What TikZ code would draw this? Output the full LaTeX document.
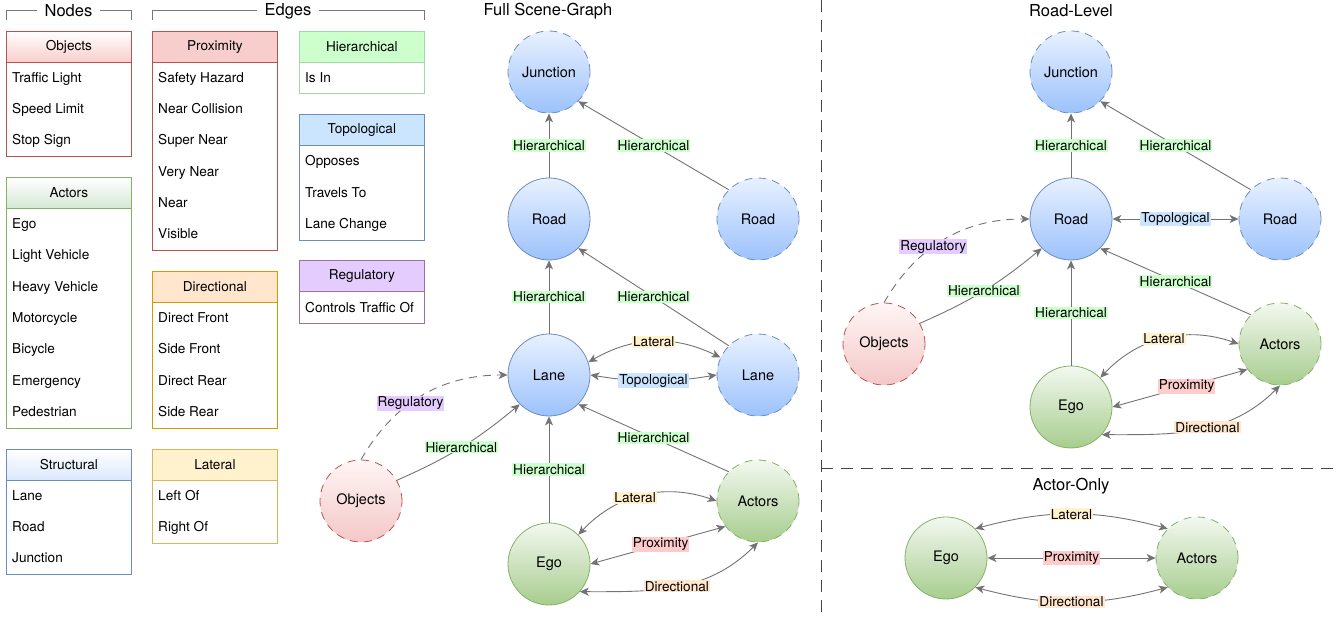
\documentclass[tikz,border=0pt]{standalone}
\usepackage{fontspec}
\setmainfont{TeX Gyre Heros}
\usetikzlibrary{arrows.meta}
\definecolor{edgegray}{HTML}{737373}
\definecolor{bluebd}{HTML}{6C8EBF}
\definecolor{bluetop}{HTML}{E8F1FF}
\definecolor{bluebot}{HTML}{9CC2FC}
\definecolor{greenbd}{HTML}{82B366}
\definecolor{greentop}{HTML}{F3F8F0}
\definecolor{greenbot}{HTML}{A7CD8E}
\definecolor{redbd}{HTML}{B85450}
\definecolor{redtop}{HTML}{FFF5F5}
\definecolor{redbot}{HTML}{F4C7C7}
\definecolor{hierfill}{HTML}{CCFFCC}
\definecolor{hierbd}{HTML}{A3D9A3}
\definecolor{topofill}{HTML}{CCE5FF}
\definecolor{latfill}{HTML}{FFF2CC}
\definecolor{latbd}{HTML}{D6B656}
\definecolor{proxfill}{HTML}{FFCCCC}
\definecolor{proxhead}{HTML}{F8CECC}
\definecolor{dirfill}{HTML}{FFE6CC}
\definecolor{dirbd}{HTML}{D79B00}
\definecolor{regfill}{HTML}{E5CCFF}
\definecolor{regbd}{HTML}{9673A6}
\definecolor{objhead}{HTML}{F8CECC}
\definecolor{acthead}{HTML}{D5E8D4}
\definecolor{strhead}{HTML}{DAE8FC}
\definecolor{divider}{HTML}{444444}
\definecolor{bracket}{HTML}{777777}
\tikzset{
  txt/.style={font=\fontsize{13.6}{16}\selectfont},
  ctxt/.style={font=\fontsize{14.5}{17}\selectfont},
  ttl/.style={font=\fontsize{16.5}{19}\selectfont},
  circ/.style={circle, minimum size=82pt, inner sep=0pt, line width=0.8pt, ctxt},
  bluec/.style={circ, draw=bluebd, top color=bluetop, bottom color=bluebot},
  greenc/.style={circ, draw=greenbd, top color=greentop, bottom color=greenbot},
  redc/.style={circ, draw=redbd, top color=redtop, bottom color=redbot},
  dashc/.style={dash pattern=on 8pt off 6pt},
  tip/.tip={Stealth[length=9pt,width=8pt,inset=2.5pt]},
  edge/.style={draw=edgegray, line width=0.9pt},
  arr/.style={edge, -tip},
  darr/.style={edge, tip-tip},
  lbl/.style={txt, inner sep=1pt, text=black},
  hierl/.style={lbl, fill=hierfill},
  topol/.style={lbl, fill=topofill},
  latl/.style={lbl, fill=latfill},
  proxl/.style={lbl, fill=proxfill},
  dirl/.style={lbl, fill=dirfill},
  regl/.style={lbl, fill=regfill},
  hdr/.style={txt, anchor=north west, minimum width=125pt, minimum height=31pt, inner sep=0pt, line width=0.8pt},
  bodyb/.style={anchor=north west, minimum width=125pt, inner sep=0pt, line width=0.8pt, fill=white},
  rowt/.style={txt, anchor=west, inner sep=0pt, text height=10pt, text depth=0pt},
  divline/.style={draw=divider, line width=1pt, dash pattern=on 12pt off 8pt},
  brk/.style={draw=bracket, line width=0.8pt},
}
\begin{document}
\begin{tikzpicture}[x=1pt,y=1pt]
\useasboundingbox (0,0) rectangle (1338,620);

% ---------- legend brackets ----------
\coordinate (nb1) at (6,600); \coordinate (nb2) at (6,610);
\coordinate (nb3) at (131,610); \coordinate (nb4) at (131,600);
\draw[brk] (nb1) -- (nb2) -- (nb3) -- (nb4);
\node[ttl, fill=white, inner xsep=8pt, inner ysep=1pt] (nodesT) at (68.5,609) {Nodes};
\coordinate (eb1) at (152,600); \coordinate (eb2) at (152,610);
\coordinate (eb3) at (424,610); \coordinate (eb4) at (424,600);
\draw[brk] (eb1) -- (eb2) -- (eb3) -- (eb4);
\node[ttl, fill=white, inner xsep=8pt, inner ysep=1pt] (edgesT) at (288,609) {Edges};

% ---------- Objects ----------
\node[bodyb, draw=redbd, minimum height=94pt] (objB) at (6,558) {};
\node[hdr, draw=redbd, top color=white, bottom color=objhead] (objH) at (6,589) {Objects};
\node[rowt] (o1) at (12,542) {Traffic Light};
\node[rowt] (o2) at (12,511) {Speed Limit};
\node[rowt] (o3) at (12,480) {Stop Sign};

% ---------- Actors ----------
\node[bodyb, draw=greenbd, minimum height=220pt] (actB) at (6,412) {};
\node[hdr, draw=greenbd, top color=white, bottom color=acthead] (actH) at (6,443) {Actors};
\node[rowt] (a1) at (12,396) {Ego};
\node[rowt] (a2) at (12,365) {Light Vehicle};
\node[rowt] (a3) at (12,333) {Heavy Vehicle};
\node[rowt] (a4) at (12,302) {Motorcycle};
\node[rowt] (a5) at (12,271) {Bicycle};
\node[rowt] (a6) at (12,239) {Emergency};
\node[rowt] (a7) at (12,208) {Pedestrian};

% ---------- Structural ----------
\node[bodyb, draw=bluebd, minimum height=94pt] (strB) at (6,140) {};
\node[hdr, draw=bluebd, top color=white, bottom color=strhead] (strH) at (6,171) {Structural};
\node[rowt] (s1) at (12,124) {Lane};
\node[rowt] (s2) at (12,93) {Road};
\node[rowt] (s3) at (12,62) {Junction};

% ---------- Proximity ----------
\node[bodyb, draw=redbd, minimum height=188pt] (proxB) at (152,558) {};
\node[hdr, draw=redbd, fill=proxhead] (proxH) at (152,589) {Proximity};
\node[rowt] (p1) at (158,542) {Safety Hazard};
\node[rowt] (p2) at (158,511) {Near Collision};
\node[rowt] (p3) at (158,480) {Super Near};
\node[rowt] (p4) at (158,448) {Very Near};
\node[rowt] (p5) at (158,417) {Near};
\node[rowt] (p6) at (158,386) {Visible};

% ---------- Directional ----------
\node[bodyb, draw=dirbd, minimum height=126pt] (dirB) at (152,318) {};
\node[hdr, draw=dirbd, fill=dirfill] (dirH) at (152,349) {Directional};
\node[rowt] (d1) at (158,302) {Direct Front};
\node[rowt] (d2) at (158,271) {Side Front};
\node[rowt] (d3) at (158,239) {Direct Rear};
\node[rowt] (d4) at (158,208) {Side Rear};

% ---------- Lateral ----------
\node[bodyb, draw=latbd, minimum height=63pt] (latB) at (152,140) {};
\node[hdr, draw=latbd, fill=latfill] (latH) at (152,171) {Lateral};
\node[rowt] (l1) at (158,124) {Left Of};
\node[rowt] (l2) at (158,93) {Right Of};

% ---------- Hierarchical ----------
\node[bodyb, draw=hierbd, minimum height=31pt] (hierB) at (299,558) {};
\node[hdr, draw=hierbd, fill=hierfill] (hierH) at (299,589) {Hierarchical};
\node[rowt] (h1) at (305,542) {Is In};

% ---------- Topological ----------
\node[bodyb, draw=bluebd, minimum height=95pt] (topoB) at (299,475) {};
\node[hdr, draw=bluebd, fill=topofill] (topoH) at (299,506) {Topological};
\node[rowt] (t1) at (305,459) {Opposes};
\node[rowt] (t2) at (305,427) {Travels To};
\node[rowt] (t3) at (305,396) {Lane Change};

% ---------- Regulatory ----------
\node[bodyb, draw=regbd, minimum height=32pt] (regB) at (299,329) {};
\node[hdr, draw=regbd, fill=regfill] (regH) at (299,360) {Regulatory};
\node[rowt] (r1) at (305,312) {Controls Traffic Of};

% ---------- dividers ----------
\coordinate (vd1) at (821,620); \coordinate (vd2) at (821,0);
\draw[divline] (vd1) -- (vd2);
\coordinate (hd1) at (821,151); \coordinate (hd2) at (1338,151);
\draw[divline] (hd1) -- (hd2);

% ---------- titles ----------
\node[ttl] (fullT) at (548,609) {Full Scene-Graph};
\node[ttl] (roadT) at (1071,609) {Road-Level};
\node[ttl] (actorT) at (1071,134) {Actor-Only};

% ========== Full Scene-Graph ==========
\node[bluec, dashc] (JuncA) at (549,548) {Junction};
\node[bluec] (RoadA) at (549,401) {Road};
\node[bluec, dashc] (RoadB) at (758,401) {Road};
\node[bluec] (LaneA) at (549,245) {Lane};
\node[bluec, dashc] (LaneB) at (758,245) {Lane};
\node[redc, dashc] (ObjA) at (361,119) {Objects};
\node[greenc, dashc] (ActA) at (758,119) {Actors};
\node[greenc] (EgoA) at (549,56) {Ego};

\draw[arr] (RoadA) -- node[hierl] {Hierarchical} (JuncA);
\draw[arr] (RoadB.135) -- node[hierl] {Hierarchical} (JuncA.-45);
\draw[arr] (LaneA) -- node[hierl] {Hierarchical} (RoadA);
\draw[arr] (LaneB.135) -- node[hierl] {Hierarchical} (RoadA.-45);
\draw[darr] (LaneA.18) to[bend left=28] node[latl] {Lateral} (LaneB.155);
\draw[darr] (LaneA.east) to[bend right=9] node[topol] {Topological} (LaneB.west);
\draw[arr] (ObjA.30) to[bend right=8] node[hierl] {Hierarchical} (LaneA.-135);
\draw[arr, dash pattern=on 8pt off 6pt] (ObjA.north) to[bend left=30] node[regl, pos=0.42] {Regulatory} (LaneA.west);
\draw[arr] (EgoA) -- node[hierl] {Hierarchical} (LaneA);
\draw[arr] (ActA.135) -- node[hierl] {Hierarchical} (LaneA.-45);
\draw[darr] (EgoA.45) to[bend left=33] node[latl, pos=0.45] {Lateral} (ActA.west);
\draw[darr] (EgoA.east) -- node[proxl, pos=0.52] {Proximity} (ActA.218);
\draw[darr] (EgoA.-42) to[out=0, in=225] node[dirl, pos=0.5] {Directional} (ActA.south);

% ========== Road-Level ==========
\node[bluec, dashc] (JuncR) at (1071,548) {Junction};
\node[bluec] (RoadR) at (1071,401) {Road};
\node[bluec, dashc] (RoadR2) at (1280,401) {Road};
\node[redc, dashc] (ObjR) at (884,276) {Objects};
\node[greenc, dashc] (ActR) at (1280,276) {Actors};
\node[greenc] (EgoR) at (1071,213) {Ego};

\draw[arr] (RoadR) -- node[hierl] {Hierarchical} (JuncR);
\draw[arr] (RoadR2.135) -- node[hierl] {Hierarchical} (JuncR.-45);
\draw[darr] (RoadR) -- node[topol] {Topological} (RoadR2);
\draw[arr, dash pattern=on 8pt off 6pt] (ObjR.north) to[bend left=30] node[regl, pos=0.42] {Regulatory} (RoadR.west);
\draw[arr] (ObjR.30) to[bend right=8] node[hierl] {Hierarchical} (RoadR.-135);
\draw[arr] (EgoR) -- node[hierl] {Hierarchical} (RoadR);
\draw[arr] (ActR.135) -- node[hierl] {Hierarchical} (RoadR.-45);
\draw[darr] (EgoR.45) to[bend left=33] node[latl, pos=0.5] {Lateral} (ActR.west);
\draw[darr] (EgoR.east) -- node[proxl, pos=0.55] {Proximity} (ActR.218);
\draw[darr] (EgoR.-42) to[out=0, in=225] node[dirl, pos=0.55] {Directional} (ActR.south);

% ========== Actor-Only ==========
\node[greenc] (EgoO) at (946,62) {Ego};
\node[greenc, dashc] (ActO) at (1197,62) {Actors};
\draw[darr] (EgoO.45) to[bend left=15] node[latl] {Lateral} (ActO.135);
\draw[darr] (EgoO.east) -- node[proxl] {Proximity} (ActO.west);
\draw[darr] (EgoO.-45) to[bend right=15] node[dirl] {Directional} (ActO.-135);

\end{tikzpicture}
\end{document}
